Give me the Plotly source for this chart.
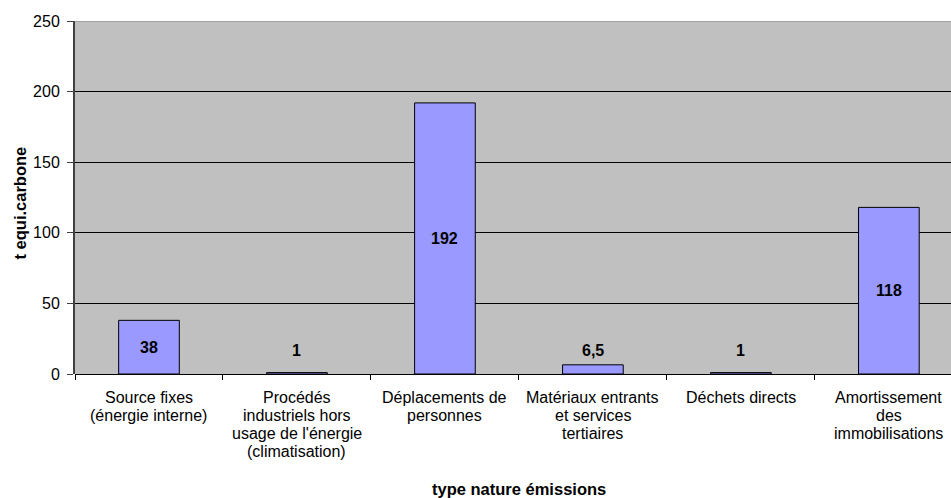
import plotly.graph_objects as go

# Emission categories and their carbon-equivalent values (t equi.carbone)
categories = [
    "Source fixes<br>(énergie interne)",
    "Procédés<br>industriels hors<br>usage de l'énergie<br>(climatisation)",
    "Déplacements de<br>personnes",
    "Matériaux entrants<br>et services<br>tertiaires",
    "Déchets directs",
    "Amortissement<br>des<br>immobilisations",
]
values = [38, 1, 192, 6.5, 1, 118]
y_ticks = [0, 50, 100, 150, 200, 250]

FONT = "Liberation Sans, Arial, sans-serif"
positions = list(range(len(categories)))

fig = go.Figure()
fig.add_trace(go.Bar(
    x=positions,
    y=values,
    width=0.41,
    marker=dict(color="#9999FF", line=dict(color="#000000", width=1)),
    hoverinfo="skip",
))

# Value labels: centred in the bar, lifted above very short bars
for xpos, v in zip(positions, values):
    fig.add_annotation(
        x=xpos, y=max(v / 2, 16.3),
        text="<b>" + f"{v:g}".replace(".", ",") + "</b>",
        showarrow=False,
        font=dict(family=FONT, size=16, color="#000000"),
    )

# Category labels, one line at a time for a tighter line pitch
for xpos, label in zip(positions, categories):
    for j, line in enumerate(label.split("<br>")):
        fig.add_annotation(
            x=xpos, xref="x", y=0, yref="paper",
            yanchor="middle", yshift=-23 - 18 * j,
            text=line, showarrow=False,
            font=dict(family=FONT, size=16, color="#000000"),
        )

# Axis titles
fig.add_annotation(
    x=(positions[0] + positions[-1]) / 2, xref="x",
    y=0, yref="paper", yanchor="middle", yshift=-115,
    text="<b>type nature émissions</b>", showarrow=False,
    font=dict(family=FONT, size=16.5, color="#000000"),
)
fig.add_annotation(
    x=0, xref="paper", xanchor="center", xshift=-55,
    y=0.483, yref="paper", yanchor="middle",
    text="<b>t equi.carbone</b>", textangle=-90, showarrow=False,
    font=dict(family=FONT, size=16.5, color="#000000"),
)

fig.update_layout(
    width=951, height=498,
    margin=dict(l=75, r=0, t=21, b=124),
    paper_bgcolor="#FFFFFF",
    plot_bgcolor="#C0C0C0",
    showlegend=False,
    font=dict(family=FONT, size=16, color="#000000"),
)

fig.update_xaxes(
    range=[-0.5, 5.42],
    tickmode="array",
    tickvals=[p - 0.5 for p in positions],
    showticklabels=False,
    ticks="outside",
    ticklen=5,
    tickcolor="#000000",
    showgrid=False,
    zeroline=False,
    showline=False,
)

fig.update_yaxes(
    range=[0, 250],
    tickmode="array",
    tickvals=y_ticks,
    ticks="outside",
    ticklen=6,
    tickcolor="#404040",
    ticklabelstandoff=4,
    showgrid=True,
    gridcolor="#000000",
    gridwidth=1,
    zeroline=True,
    zerolinecolor="#000000",
    zerolinewidth=1,
    showline=True,
    linecolor="#404040",
    linewidth=2,
    tickfont=dict(family=FONT, size=16, color="#000000"),
)

# Top border of the plotting area
fig.add_shape(
    type="line", xref="paper", yref="y",
    x0=0, x1=1, y0=250, y1=250,
    line=dict(color="#808080", width=1),
)

fig.write_html("out.html")
